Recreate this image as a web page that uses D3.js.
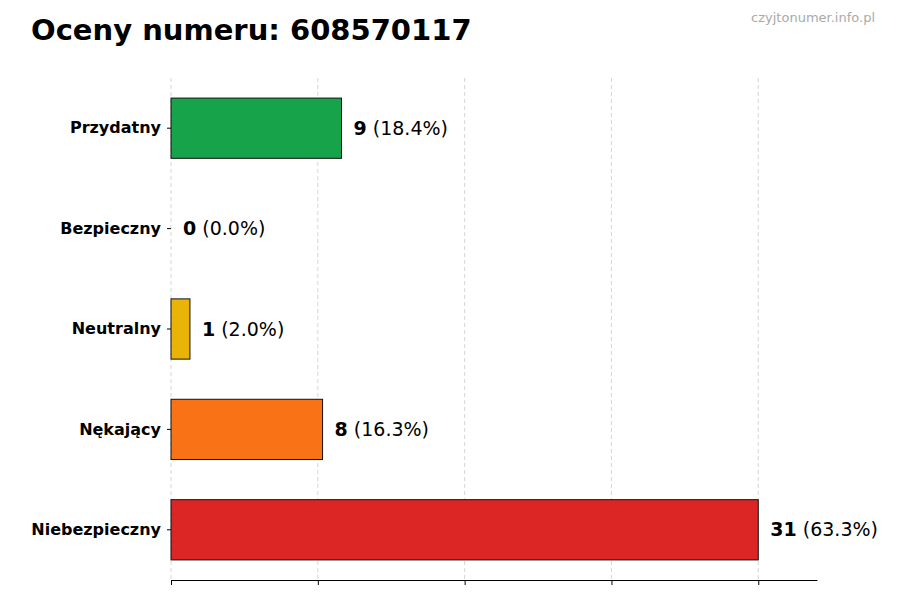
<!DOCTYPE html>
<html><head><meta charset="utf-8">
<script src="https://cdn.jsdelivr.net/npm/d3@7"></script>
<style>body{margin:0;background:#fff;font-family:"DejaVu Sans",sans-serif;}</style>
</head><body><div id="chart"></div>
<script>
const categories = ["Przydatny", "Bezpieczny", "Neutralny", "Nękający", "Niebezpieczny"];
const counts = [9, 0, 1, 8, 31];
const percents = ["18.4%", "0.0%", "2.0%", "16.3%", "63.3%"];
const colors = ["#16a34a", "#15803d", "#eab308", "#f97316", "#dc2626"];

const width = 900, height = 600;
const margin = { top: 78, right: 83, bottom: 20, left: 171 };
const innerW = width - margin.left - margin.right;
const innerH = 580 - margin.top;

const svg = d3.select("#chart").append("svg")
    .attr("width", width).attr("height", height);

svg.append("text").attr("x", 31).attr("y", 40)
    .attr("font-size", 29).attr("font-weight", "bold").text("Oceny numeru: 608570117");
svg.append("text").attr("x", 875).attr("y", 22).attr("text-anchor", "end")
    .attr("font-size", 13).attr("fill", "#aaa").text("czyjtonumer.info.pl");

const g = svg.append("g").attr("transform", "translate(" + margin.left + "," + margin.top + ")");

const maxV = d3.max(counts);
const x = d3.scaleLinear().domain([0, maxV * 1.1]).range([0, innerW]);
const y = d3.scaleBand().domain(categories).range([0, innerH]).paddingInner(0.4).paddingOuter(0.2);

const ticks = d3.range(5).map(i => maxV * i / 4);
g.selectAll(".grid").data(ticks).enter().append("line")
    .attr("x1", d => x(d)).attr("x2", d => x(d))
    .attr("y1", 0).attr("y2", innerH)
    .attr("stroke", "#ccc").attr("stroke-dasharray", "4,3").attr("stroke-width", 0.8);

const xAxis = g.append("g").attr("transform", "translate(0," + innerH + ")")
    .call(d3.axisBottom(x).tickValues(ticks).tickFormat("").tickSize(5).tickSizeOuter(0));
xAxis.select(".domain").attr("stroke", "#000");

const yAxis = g.append("g").call(d3.axisLeft(y).tickSize(4).tickPadding(6));
yAxis.select(".domain").remove();
yAxis.selectAll("text").attr("font-size", 16).attr("font-weight", "bold")
    .attr("font-family", "DejaVu Sans").attr("fill", "#000");

g.selectAll(".bar").data(categories).enter().append("rect")
    .attr("x", 0).attr("y", d => y(d))
    .attr("width", (d, i) => x(counts[i])).attr("height", y.bandwidth())
    .attr("fill", (d, i) => colors[i]).attr("stroke", "#111").attr("stroke-width", 1);

const lbl = g.selectAll(".lbl").data(categories).enter().append("text")
    .attr("x", (d, i) => x(counts[i]) + 12)
    .attr("y", d => y(d) + y.bandwidth() / 2)
    .attr("dy", "0.35em").attr("font-size", 19);
lbl.append("tspan").attr("font-weight", "bold").text((d, i) => counts[i]);
lbl.append("tspan").text((d, i) => " (" + percents[i] + ")");
</script></body></html>
